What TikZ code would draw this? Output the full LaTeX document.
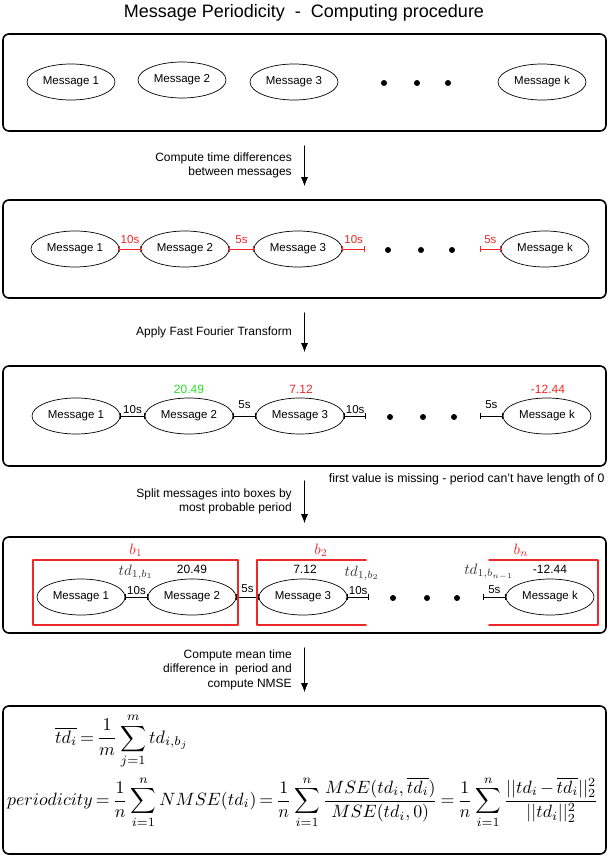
\documentclass[tikz,border=0pt]{standalone}
\usepackage[no-math]{fontspec}
\setsansfont{Liberation Sans}
\usetikzlibrary{shapes.geometric,arrows.meta}
\definecolor{gapred}{RGB}{238,40,40}
\definecolor{valgreen}{RGB}{40,225,40}
\tikzset{
  msg/.style={draw, ellipse, line width=0.7pt, minimum width=88pt, minimum height=36pt, inner sep=0pt,
    font=\sffamily\fontsize{11.5}{13}\selectfont},
  stage/.style={draw, line width=1.6pt, rounded corners=6pt, minimum width=603pt, inner sep=0pt},
  gap/.style={|-|, line width=0.8pt},
  gaplabel/.style={inner sep=1pt, font=\sffamily\fontsize{11.5}{13}\selectfont},
  valtext/.style={font=\sffamily\fontsize{12}{13}\selectfont},
  dot/.style={circle, fill, inner sep=0pt, minimum size=6pt},
  note/.style={font=\sffamily\fontsize{12}{14.5}\selectfont, align=right},
  flow/.style={-{Latex[length=9pt,width=7pt]}, line width=0.8pt, shorten <=14pt, shorten >=13pt},
  boxline/.style={gapred, line width=1.6pt},
  tdtext/.style={black!80},
}
\newcommand{\tightmath}{\thickmuskip=3mu plus 1mu\medmuskip=2.5mu}

\begin{document}
\begin{tikzpicture}[line cap=round,line join=round,x=1pt,y=-1pt]
\useasboundingbox (0,0) rectangle (609,857);
\node[font=\sffamily\fontsize{18}{20}\selectfont] (title) at (304,13) {Message Periodicity~~-~~Computing procedure};

\node[stage, minimum height=97pt] (s1) at (304.5,82.5) {};
\node[stage, minimum height=98pt] (s2) at (304.5,249) {};
\node[stage, minimum height=100pt] (s3) at (304.5,416) {};
\node[stage, minimum height=96pt] (s4) at (304.5,585) {};
\node[stage, minimum height=148pt] (s5) at (304.5,780) {};

\draw[flow] (s1.south) -- node[note, left=9pt] {Compute time differences\\between messages} (s2.north);
\draw[flow] (s2.south) -- node[note, left=9pt] {Apply Fast Fourier Transform} (s3.north);
\draw[flow] (s3.south) -- node[note, left=9pt] {Split messages into boxes by\\most probable period} (s4.north);
\draw[flow] (s4.south) -- node[note, left=9pt] {Compute mean time\\difference in~ period and\\compute NMSE} (s5.north);
\node[note, anchor=east, font=\sffamily\fontsize{12.3}{14.5}\selectfont] (missing) at (608,479) {first value is missing - period can't have length of 0};

\node[msg] (a1) at (71,82) {Message 1};
\node[msg] (a2) at (182,80) {Message 2};
\node[msg] (a3) at (294,82) {Message 3};
\node[msg] (ak) at (542,82) {Message k};
\foreach \x [count=\i] in {384,417,448} \node[dot] (adot\i) at (\x,83) {};

\node[msg] (b1) at (75,249) {Message 1};
\node[msg] (b2) at (185,249) {Message 2};
\node[msg] (b3) at (298,249) {Message 3};
\node[msg] (bk) at (545,249) {Message k};
\coordinate (b3r) at (365,249);
\coordinate (bkl) at (480,249);
\foreach \x [count=\i] in {388,421,452} \node[dot] (bdot\i) at (\x,250) {};
\draw[gap, gapred] (b1) -- node[gaplabel, above=4pt] {10s} (b2);
\draw[gap, gapred] (b2) -- node[gaplabel, above=4pt] {5s} (b3);
\draw[gap, gapred] (b3) -- node[gaplabel, above=4pt] {10s} (b3r);
\draw[gap, gapred] (bkl) -- node[gaplabel, above=4pt] {5s} (bk);

\node[msg] (c1) at (76,416) {Message 1};
\node[msg] (c2) at (189,416) {Message 2};
\node[msg] (c3) at (300,416) {Message 3};
\node[msg] (ck) at (547,416) {Message k};
\coordinate (c3r) at (366,416);
\coordinate (ckl) at (480,416);
\foreach \x [count=\i] in {390,423,454} \node[dot] (cdot\i) at (\x,417) {};
\draw[gap] (c1) -- node[gaplabel, above=1pt] {10s} (c2);
\draw[gap] (c2) -- node[gaplabel, above=6pt] {5s} (c3);
\draw[gap] (c3) -- node[gaplabel, above=1pt] {10s} (c3r);
\draw[gap] (ckl) -- node[gaplabel, above=6pt] {5s} (ck);
\node[valtext, valgreen] (c2v) at (189,389) {20.49};
\node[valtext, gapred] (c3v) at (301,389) {7.12};
\node[valtext, gapred] (ckv) at (548,389) {-12.44};

\node[msg] (d1) at (81,597) {Message 1};
\node[msg] (d2) at (192,597) {Message 2};
\node[msg] (d3) at (303,597) {Message 3};
\node[msg] (dk) at (550,597) {Message k};
\coordinate (d3r) at (369,597);
\coordinate (dkl) at (483,597);
\foreach \x [count=\i] in {393,427,457} \node[dot] (ddot\i) at (\x,598) {};
\draw[gap] (d1) -- node[gaplabel, above=1pt] {10s} (d2);
\draw[gap] (d2) -- node[gaplabel, above=3pt] {5s} (d3);
\draw[gap] (d3) -- node[gaplabel, above=1pt] {10s} (d3r);
\draw[gap] (dkl) -- node[gaplabel, above=2pt] {5s} (dk);
\node[valtext] (d2v) at (192,569) {20.49};
\node[valtext] (d3v) at (305,569) {7.12};
\node[valtext] (dkv) at (550,569) {-12.44};
\node[tdtext] (td1) at (136,572) {\scalebox{1.5}{$td_{1,b_1}$}};
\node[tdtext] (td2) at (362,573) {\scalebox{1.5}{$td_{1,b_2}$}};
\node[tdtext] (tdn) at (489,572) {\scalebox{1.5}{$td_{1,b_{n-1}}$}};

\draw[boxline] (33,560) rectangle (238,625);
\draw[boxline] (366,560) -- (257,560) -- (257,625) -- (366,625);
\draw[boxline] (489,560) -- (598,560) -- (598,625) -- (489,625);
\node[gapred] (bl1) at (136,550) {\scalebox{1.5}{$b_1$}};
\node[gapred] (bl2) at (321,550) {\scalebox{1.5}{$b_2$}};
\node[gapred] (bln) at (521,550) {\scalebox{1.5}{$b_n$}};

\node[anchor=west, inner sep=0pt] (f1) at (55,741) {\scalebox{1.8}{$\tightmath\displaystyle \overline{td_i} = \frac{1}{m}\sum_{j=1}^{m} td_{i,b_j}$}};
\node[anchor=west, inner sep=0pt] (f2) at (7,802) {\resizebox{591pt}{!}{$\tightmath\displaystyle periodicity = \frac{1}{n}\sum_{i=1}^{n} NMSE(td_i) = \frac{1}{n}\sum_{i=1}^{n}\frac{MSE(td_i,\overline{td_i})}{MSE(td_i,0)} = \frac{1}{n}\sum_{i=1}^{n}\frac{||td_i-\overline{td_i}||_2^2}{||td_i||_2^2}$}};
\end{tikzpicture}
\end{document}
